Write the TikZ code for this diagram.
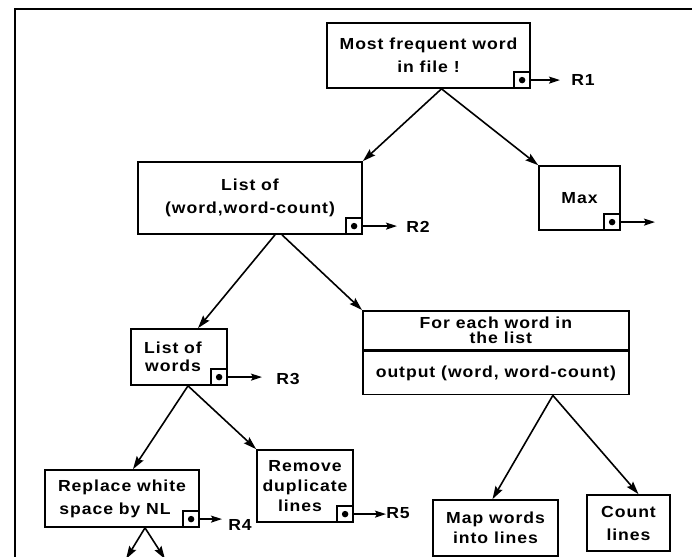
\documentclass[tikz,border=0pt]{standalone}
\usepackage{fontspec}
\setmainfont{Liberation Sans}[FakeStretch=1.1, LetterSpace=6]
\usetikzlibrary{arrows.meta,calc}
\tikzset{
  box/.style={draw, line width=1.7pt, inner sep=0pt, align=center},
  conn/.style={line width=1.6pt, -{Stealth[length=13pt,width=8pt,inset=2pt]}},
  port/.style={draw, line width=1.5pt, minimum size=16pt, inner sep=0pt, anchor=south east},
  portdot/.style={fill, circle, minimum size=6.5pt, inner sep=0pt},
  outarr/.style={line width=1.6pt, -{Stealth[length=11pt,width=7pt,inset=2pt]}},
  lbl/.style={inner sep=0pt},
  frame/.style={line width=2.4pt},
}
\begin{document}
\begin{tikzpicture}[x=1pt,y=-1pt, font=\fontsize{16}{23}\selectfont\bfseries]
\useasboundingbox (0,0) rectangle (692,556);
% frame
\coordinate (fbl) at (15,560);
\coordinate (ftl) at (15,9);
\coordinate (ftr) at (694,9);
\draw[frame] (fbl) -- (ftl) -- (ftr);

% boxes
\node[box, minimum width=203pt, minimum height=65pt] (top) at (428.5,55.5) {Most frequent word\\ in file !};
\node[box, minimum width=224pt, minimum height=72pt] (lwc) at (250,198) {List of\\ (word,word-count)};
\node[box, minimum width=81pt, minimum height=64pt] (max) at (579.5,198) {Max};
\node[box, minimum width=96pt, minimum height=56pt, font=\fontsize{16}{18}\selectfont\bfseries] (low) at (179,357) {\hspace*{-12pt}List of\\ \hspace*{-12pt}words};
\node[box, minimum width=266pt, minimum height=39pt, anchor=north west, font=\fontsize{16}{15}\selectfont\bfseries] (fe) at (362,310) {For each word in\\ \hspace*{10pt}the list};
\node[box, minimum width=266pt, minimum height=43pt, anchor=north west] (fo) at (fe.south west) {output (word, word-count)};
\node[box, minimum width=154pt, minimum height=57pt] (rep) at (122,498.5) {Replace white\\ space by NL\hspace*{14pt}};
\node[box, minimum width=96pt, minimum height=72pt, font=\fontsize{16}{20}\selectfont\bfseries] (rem) at (305,486) {Remove\\ duplicate\\ lines\hspace*{10pt}};
\node[box, minimum width=125pt, minimum height=56pt, font=\fontsize{16}{20}\selectfont\bfseries] (map) at (495.5,528) {Map words\\ into lines};
\node[box, minimum width=83pt, minimum height=56pt] (cnt) at (628.5,523) {Count\\ lines};

% output ports
\node[port] (p1) at (top.south east) {};
\node[portdot] (d1) at (p1) {};
\node[port] (p2) at (lwc.south east) {};
\node[portdot] (d2) at (p2) {};
\node[port] (p3) at (max.south east) {};
\node[portdot] (d3) at (p3) {};
\node[port] (p4) at (low.south east) {};
\node[portdot] (d4) at (p4) {};
\node[port] (p5) at (rep.south east) {};
\node[portdot] (d5) at (p5) {};
\node[port] (p6) at (rem.south east) {};
\node[portdot] (d6) at (p6) {};

\coordinate (e1) at (560,79);
\coordinate (e2) at (397,225);
\coordinate (e3) at (655,220);
\coordinate (e4) at (262,377);
\coordinate (e5) at (222,517);
\coordinate (e6) at (386,513);
\draw[outarr] (p1.east) -- (p1.east -| e1);
\draw[outarr] (p2.east) -- (p2.east -| e2);
\draw[outarr] (p3.east) -- (p3.east -| e3);
\draw[outarr] (p4.east) -- (p4.east -| e4);
\draw[outarr] (p5.east) -- (p5.east -| e5);
\draw[outarr] (p6.east) -- (p6.east -| e6);

\node[lbl] (R1) at (583,80) {R1};
\node[lbl] (R2) at (418,227) {R2};
\node[lbl] (R3) at (288,379) {R3};
\node[lbl] (R4) at (240,525) {R4};
\node[lbl] (R5) at (398,513) {R5};

% tree connectors
\draw[conn] ([xshift=13pt]top.south) -- (lwc.north east);
\draw[conn] ([xshift=13pt]top.south) -- (max.north west);
\draw[conn] ([xshift=25pt]lwc.south) -- ([xshift=19pt]low.north);
\draw[conn] ([xshift=32pt]lwc.south) -- (fe.north west);
\draw[conn] ([xshift=9pt]low.south) -- ([xshift=11pt]rep.north);
\draw[conn] ([xshift=9pt]low.south) -- (rem.north west);
\draw[conn] ([xshift=57pt]fo.south) -- ([xshift=-3pt]map.north);
\draw[conn] ([xshift=57pt]fo.south) -- ([xshift=10pt]cnt.north);
\coordinate (b1) at (126,559);
\coordinate (b2) at (165,559);
\draw[conn] ([xshift=23pt]rep.south) -- (b1);
\draw[conn] ([xshift=23pt]rep.south) -- (b2);
\end{tikzpicture}
\end{document}
